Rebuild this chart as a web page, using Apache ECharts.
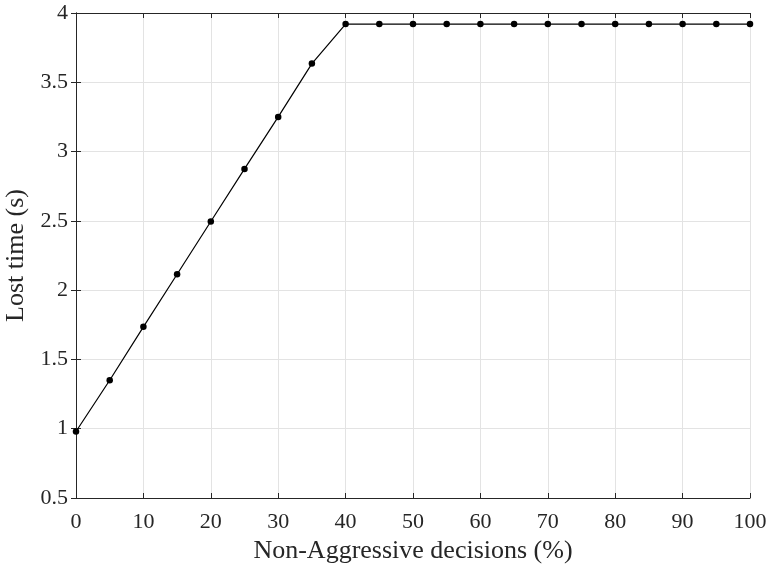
<!DOCTYPE html>
<html><head><meta charset="utf-8">
<script src="https://cdn.jsdelivr.net/npm/echarts@6/dist/echarts.min.js"></script>
<style>html,body{margin:0;padding:0;background:#fff}#c{width:769px;height:567px}</style>
</head><body><div id="c"></div>
<script>
const xValues = [0,5,10,15,20,25,30,35,40,45,50,55,60,65,70,75,80,85,90,95,100];
const lostTime = [0.98,1.35,1.735,2.115,2.495,2.875,3.25,3.635,3.92,3.92,3.92,3.92,3.92,3.92,3.92,3.92,3.92,3.92,3.92,3.92,3.92];
const xTitle = 'Non-Aggressive decisions (%)';
const yTitle = 'Lost time (s)';

const font = '"Liberation Serif","Times New Roman",serif';
const axColor = '#262626';
const chart = echarts.init(document.getElementById('c'));
const baseX = {
  type:'value', min:0, max:100, interval:10,
  axisLine:{show:true, lineStyle:{color:axColor, width:1}},
  axisTick:{show:true, inside:true, length:5, lineStyle:{color:axColor}},
  splitLine:{show:true, lineStyle:{color:'#e3e3e3', width:1}}
};
const baseY = {
  type:'value', min:0.5, max:4, interval:0.5,
  axisLine:{show:true, lineStyle:{color:axColor, width:1}},
  axisTick:{show:true, inside:true, length:5, lineStyle:{color:axColor}},
  splitLine:{show:true, lineStyle:{color:'#e3e3e3', width:1}}
};
chart.setOption({
  animation:false,
  backgroundColor:'#fff',
  grid:{left:76, right:19, top:13, bottom:69, containLabel:false, outerBoundsMode:'none'},
  xAxis:[
    Object.assign({}, baseX, {position:'bottom',
      name:xTitle, nameLocation:'middle', nameGap:34,
      nameTextStyle:{fontFamily:font, fontSize:26, color:'#262626'},
      axisLabel:{fontFamily:font, fontSize:22, color:'#262626', margin:13}}),
    Object.assign({}, baseX, {position:'top', axisLabel:{show:false}, splitLine:{show:false}})
  ],
  yAxis:[
    Object.assign({}, baseY, {position:'left',
      name:yTitle, nameLocation:'middle', nameGap:40,
      nameTextStyle:{fontFamily:font, fontSize:26, color:'#262626'},
      axisLabel:{fontFamily:font, fontSize:22, color:'#262626', margin:8,
        formatter:v=>String(+v.toFixed(1))}}),
    Object.assign({}, baseY, {position:'right', axisLabel:{show:false}, splitLine:{show:false}})
  ],
  series:[{
    type:'line', xAxisIndex:0, yAxisIndex:0,
    data:xValues.map((x,i)=>[x,lostTime[i]]),
    symbol:'circle', symbolSize:6.5,
    lineStyle:{color:'#000', width:1.2},
    itemStyle:{color:'#000'},
    clip:false
  }]
});
</script></body></html>
